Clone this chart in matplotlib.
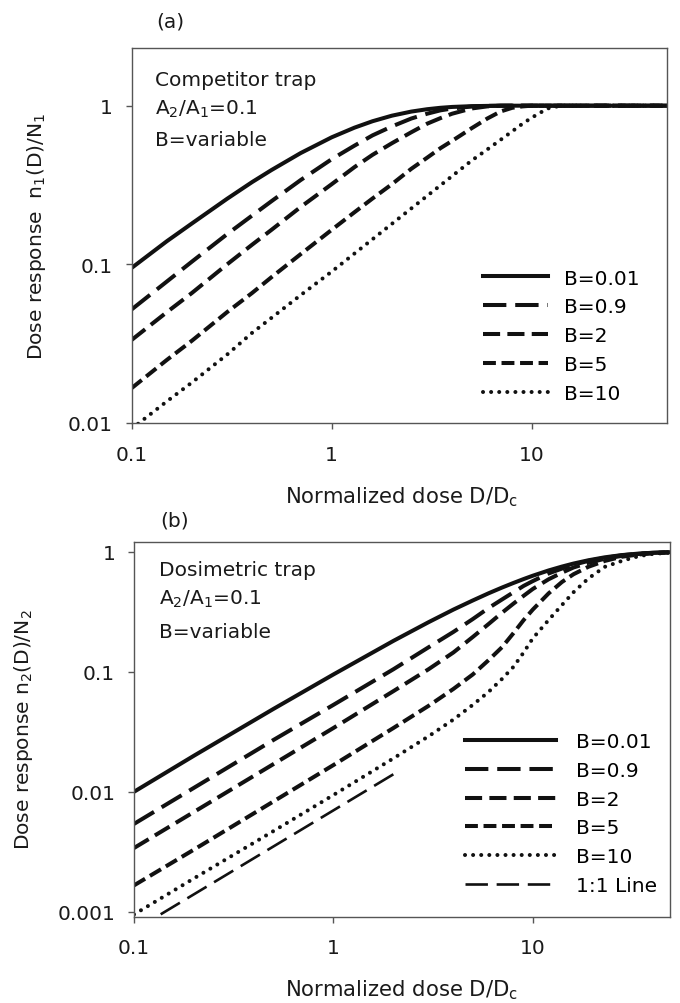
import matplotlib
matplotlib.use("Agg")
import matplotlib.pyplot as plt
from matplotlib.ticker import NullLocator, FixedLocator, FixedFormatter

plt.rcParams['font.family'] = ['DejaVu Sans']
plt.rcParams['mathtext.default'] = 'regular'

W, H = 680, 1004
FS = 14.5
GRAY = '#555555'

# ---- panel (a): competitor trap, n1/N1 ----
dose_a = [0.1, 0.15, 0.2, 0.3, 0.4, 0.5, 0.7, 1, 1.3, 1.6, 2, 2.5, 3, 3.5, 4, 5, 6, 7, 8, 9, 10, 12, 14, 20, 48]
a_b001 = [0.095, 0.14, 0.181, 0.259, 0.33, 0.393, 0.503, 0.632, 0.727, 0.798, 0.865, 0.918, 0.95, 0.97, 0.982,
          0.993, 0.997, 0.999, 1, 1, 1, 1, 1, 1, 1]
a_b09 = [0.052, 0.078, 0.104, 0.155, 0.203, 0.25, 0.34, 0.46, 0.56, 0.65, 0.74, 0.83, 0.89, 0.935, 0.96,
         0.988, 0.997, 1, 1, 1, 1, 1, 1, 1, 1]
a_b2 = [0.0334, 0.05, 0.066, 0.1, 0.133, 0.165, 0.23, 0.32, 0.41, 0.49, 0.58, 0.68, 0.77, 0.835, 0.89,
        0.96, 0.99, 1, 1, 1, 1, 1, 1, 1, 1]
a_b5 = [0.0166, 0.025, 0.033, 0.05, 0.066, 0.083, 0.116, 0.165, 0.213, 0.26, 0.32, 0.4, 0.47, 0.54, 0.6,
        0.72, 0.83, 0.92, 0.97, 0.99, 1, 1, 1, 1, 1]
a_b10 = [0.0092, 0.0137, 0.018, 0.027, 0.037, 0.046, 0.064, 0.09, 0.117, 0.144, 0.18, 0.225, 0.27, 0.315, 0.36,
         0.45, 0.53, 0.61, 0.69, 0.77, 0.84, 0.96, 1, 1, 1]

# ---- panel (b): dosimetric trap, n2/N2 ----
dose_b = [0.1, 0.2, 0.5, 1, 2, 3, 4, 5, 6, 7, 8, 9, 10, 12, 14, 16, 19, 23, 28, 34, 40, 48]
b_b001 = [0.01, 0.02, 0.049, 0.095, 0.181, 0.259, 0.33, 0.393, 0.451, 0.503, 0.55, 0.593, 0.632, 0.699, 0.753,
          0.798, 0.85, 0.9, 0.939, 0.967, 0.982, 0.992]
b_b09 = [0.0054, 0.0108, 0.027, 0.053, 0.105, 0.16, 0.215, 0.275, 0.34, 0.40, 0.46, 0.52, 0.57, 0.66, 0.725,
         0.78, 0.84, 0.89, 0.935, 0.965, 0.98, 0.991]
b_b2 = [0.0034, 0.0068, 0.017, 0.034, 0.069, 0.105, 0.145, 0.195, 0.25, 0.31, 0.37, 0.43, 0.49, 0.59, 0.67,
        0.74, 0.81, 0.875, 0.925, 0.96, 0.978, 0.99]
b_b5 = [0.00166, 0.0033, 0.0083, 0.0167, 0.034, 0.052, 0.072, 0.095, 0.125, 0.16, 0.21, 0.27, 0.33, 0.45, 0.56,
        0.65, 0.75, 0.84, 0.91, 0.95, 0.972, 0.988]
b_b10 = [0.00095, 0.0019, 0.0047, 0.0094, 0.019, 0.029, 0.04, 0.053, 0.068, 0.087, 0.11, 0.145, 0.19, 0.27, 0.36,
         0.46, 0.6, 0.75, 0.84, 0.92, 0.96, 0.983]
line_x = [0.1, 2.0]
line_y = [0.0007, 0.014]

labels = ['B=0.01', 'B=0.9', 'B=2', 'B=5', 'B=10']
LW = 2.9
styles = [
    dict(ls='-', lw=LW),
    dict(ls=(0, (5.8, 2.2)), lw=LW),
    dict(ls=(0, (4.25, 1.8)), lw=LW),
    dict(ls=(0, (3.2, 1.4)), lw=LW),
    dict(ls=(0, (0.01, 2.0)), lw=LW, dash_capstyle='round'),
]


def fig_rect(left, top, right, bottom):
    return [left / W, 1 - bottom / H, (right - left) / W, (bottom - top) / H]


def style_axes(ax, yticks, ylabels):
    ax.set_xscale('log')
    ax.set_yscale('log')
    ax.xaxis.set_major_locator(FixedLocator([0.1, 1, 10]))
    ax.xaxis.set_major_formatter(FixedFormatter(['0.1', '1', '10']))
    ax.yaxis.set_major_locator(FixedLocator(yticks))
    ax.yaxis.set_major_formatter(FixedFormatter(ylabels))
    ax.xaxis.set_minor_locator(NullLocator())
    ax.yaxis.set_minor_locator(NullLocator())
    for s in ax.spines.values():
        s.set_color(GRAY)
        s.set_linewidth(1.0)
    ax.tick_params(which='major', direction='out', length=4.5, width=1.0,
                   color=GRAY, labelsize=FS, labelcolor='#1a1a1a')
    ax.tick_params(axis='x', pad=11)
    ax.tick_params(axis='y', pad=9)


fig = plt.figure(figsize=(W / 100, H / 100), dpi=100)

# panel (a)
ax1 = fig.add_axes(fig_rect(131.7, 49.3, 667, 424))
for y, lab, st in zip([a_b001, a_b09, a_b2, a_b5, a_b10], labels, styles):
    ax1.plot(dose_a, y, color='#111111', label=lab, **st)
ax1.set_xlim(0.1, 47.5)
ax1.set_ylim(0.01, 2.3)
style_axes(ax1, [0.01, 0.1, 1], ['0.01', '0.1', '1'])
ax1.legend(loc='upper left', bbox_to_anchor=((483 - 131.7) / 535.3, (424 - 269.5) / 374.7),
           frameon=False, fontsize=FS, borderpad=0, borderaxespad=0,
           handlelength=3.25, handletextpad=0.75, labelspacing=0.49)

# panel (b)
ax2 = fig.add_axes(fig_rect(134, 543.3, 669.7, 917.7))
for y, lab, st in zip([b_b001, b_b09, b_b2, b_b5, b_b10], labels, styles):
    ax2.plot(dose_b, y, color='#111111', label=lab, **st)
ax2.plot(line_x, line_y, color='#111111', lw=1.9, ls=(0, (8.5, 3.3)), label='1:1 Line')
ax2.set_xlim(0.1, 48.6)
ax2.set_ylim(0.00091, 1.2)
style_axes(ax2, [0.001, 0.01, 0.1, 1], ['0.001', '0.01', '0.1', '1'])
ax2.legend(loc='upper left', bbox_to_anchor=((465 - 134) / 535.7, (917.7 - 733.5) / 374.4),
           frameon=False, fontsize=FS, borderpad=0, borderaxespad=0,
           handlelength=4.5, handletextpad=1.0, labelspacing=0.48)

# text annotations (pixel positions)
def ftext(x, y, s, **kw):
    fig.text(x / W, 1 - y / H, s, fontsize=FS, color='#1a1a1a', **kw)

ftext(155, 81, 'Competitor trap', va='center')
ftext(155, 109, 'A$_2$/A$_1$=0.1', va='center')
ftext(155, 141, 'B=variable', va='center')
ftext(159, 571, 'Dosimetric trap', va='center')
ftext(159, 599, 'A$_2$/A$_1$=0.1', va='center')
ftext(159, 632, 'B=variable', va='center')

ftext(170, 22, '(a)', va='center', ha='center')
ftext(175, 521, '(b)', va='center', ha='center')

fig.text(402 / W, 1 - 497 / H, 'Normalized dose D/D$_c$', fontsize=15.2, color='#1a1a1a',
         va='center', ha='center')
fig.text(402 / W, 1 - 990 / H, 'Normalized dose D/D$_c$', fontsize=15.2, color='#1a1a1a',
         va='center', ha='center')
ftext(37, 236, 'Dose response  n$_1$(D)/N$_1$', va='center', ha='center', rotation=90)
ftext(24, 730, 'Dose response n$_2$(D)/N$_2$', va='center', ha='center', rotation=90)

fig.savefig('out.png', dpi=100)
